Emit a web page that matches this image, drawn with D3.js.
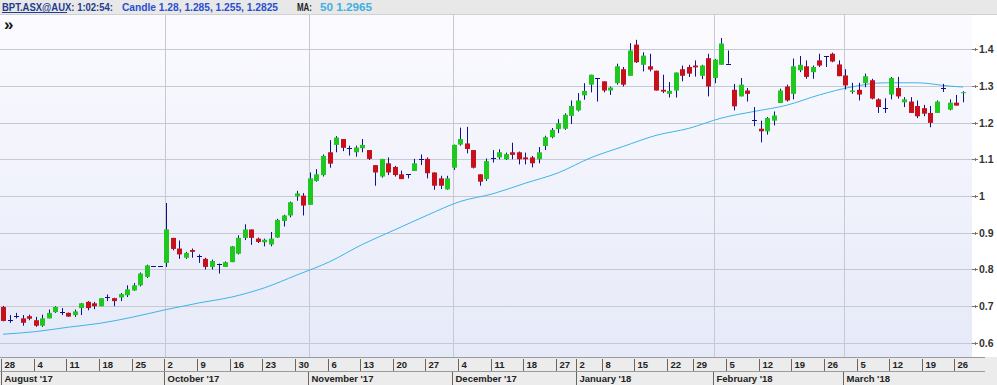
<!DOCTYPE html>
<html>
<head>
<meta charset="utf-8">
<script src="https://cdn.jsdelivr.net/npm/d3@7"></script>
<style>
  html, body { margin: 0; padding: 0; background: #fff; }
  svg { display: block; font-family: "Liberation Sans", Arial, sans-serif; }
</style>
</head>
<body>
<div id="chart"></div>
<script>
// --------------------------------------------------------
// DATA, one candle per trading day
// --------------------------------------------------------
const opens = [0.698,0.662,0.674,0.667,0.673,0.662,0.647,0.667,0.684,0.685,0.682,0.676,0.695,0.712,0.708,0.700,0.724,0.722,0.724,0.730,
  0.743,0.757,0.780,0.810,0.810,0.818,0.886,0.857,0.832,0.853,0.838,0.829,0.807,0.814,0.807,0.820,0.843,0.886,0.909,0.884,
  0.874,0.868,0.887,0.932,0.947,0.999,1.001,0.976,1.041,1.057,1.119,1.139,1.155,1.131,1.119,1.130,1.125,1.084,1.053,1.089,
  1.079,1.059,1.059,1.068,1.102,1.101,1.064,1.048,1.018,1.077,1.140,1.143,1.125,1.059,1.046,1.103,1.105,1.100,1.119,1.119,
  1.105,1.105,1.100,1.136,1.160,1.182,1.183,1.218,1.233,1.274,1.303,1.321,1.312,1.287,1.307,1.345,1.327,1.412,1.357,1.353,
  1.341,1.289,1.278,1.287,1.345,1.351,1.355,1.327,1.375,1.321,1.357,1.360,1.289,1.271,1.287,1.207,1.183,1.176,1.205,1.253,
  1.298,1.278,1.342,1.353,1.337,1.369,1.381,1.387,1.358,1.328,1.283,1.289,1.307,1.315,1.263,1.239,1.276,1.294,1.255,1.257,
  1.245,1.239,1.226,1.226,1.294,1.235,1.254,1.280];
const highs = [0.701,0.676,0.682,0.676,0.677,0.671,0.677,0.691,0.700,0.695,0.683,0.691,0.709,0.714,0.712,0.722,0.732,0.723,0.736,0.757,
  0.763,0.792,0.813,0.810,0.810,0.981,0.886,0.879,0.848,0.857,0.841,0.832,0.827,0.816,0.822,0.864,0.893,0.923,0.909,0.887,
  0.884,0.902,0.938,0.949,0.985,1.014,1.008,1.064,1.073,1.113,1.152,1.163,1.155,1.137,1.137,1.155,1.125,1.084,1.101,1.105,
  1.082,1.069,1.059,1.101,1.113,1.105,1.064,1.055,1.055,1.140,1.186,1.188,1.125,1.059,1.102,1.125,1.127,1.118,1.145,1.121,
  1.118,1.109,1.133,1.164,1.185,1.209,1.225,1.260,1.280,1.307,1.330,1.321,1.312,1.298,1.360,1.351,1.416,1.425,1.391,1.387,
  1.341,1.330,1.310,1.336,1.355,1.357,1.369,1.357,1.387,1.373,1.430,1.396,1.305,1.321,1.294,1.242,1.205,1.215,1.230,1.292,
  1.303,1.374,1.381,1.369,1.355,1.387,1.381,1.390,1.369,1.345,1.308,1.308,1.333,1.319,1.266,1.266,1.324,1.324,1.269,1.269,
  1.260,1.248,1.245,1.260,1.305,1.263,1.275,1.285];
const lows = [0.659,0.655,0.667,0.647,0.662,0.644,0.644,0.667,0.682,0.676,0.671,0.671,0.676,0.689,0.692,0.700,0.714,0.700,0.714,0.725,
  0.742,0.754,0.777,0.810,0.810,0.807,0.852,0.829,0.829,0.832,0.818,0.800,0.800,0.789,0.807,0.820,0.841,0.880,0.867,0.872,
  0.863,0.863,0.886,0.917,0.942,0.987,0.947,0.976,1.039,1.053,1.077,1.119,1.122,1.110,1.107,1.119,1.098,1.028,1.050,1.057,
  1.053,1.046,1.048,1.068,1.084,1.048,1.017,1.019,1.017,1.071,1.137,1.116,1.075,1.028,1.041,1.091,1.100,1.098,1.100,1.086,
  1.086,1.078,1.089,1.125,1.157,1.171,1.180,1.196,1.230,1.262,1.282,1.257,1.282,1.275,1.303,1.298,1.327,1.362,1.339,1.339,
  1.287,1.280,1.268,1.268,1.312,1.324,1.325,1.318,1.271,1.307,1.357,1.360,1.233,1.271,1.257,1.190,1.146,1.167,1.192,1.253,
  1.257,1.263,1.337,1.319,1.319,1.351,1.351,1.364,1.326,1.290,1.278,1.260,1.296,1.263,1.226,1.226,1.263,1.265,1.242,1.226,
  1.212,1.217,1.187,1.226,1.283,1.233,1.246,1.255];
const closes = [0.660,0.662,0.674,0.655,0.666,0.647,0.667,0.682,0.698,0.685,0.672,0.686,0.708,0.695,0.700,0.722,0.724,0.714,0.733,0.746,
  0.757,0.789,0.811,0.810,0.810,0.909,0.856,0.841,0.845,0.848,0.838,0.807,0.823,0.814,0.820,0.863,0.886,0.909,0.886,0.875,
  0.881,0.884,0.935,0.947,0.983,1.007,0.974,1.048,1.059,1.109,1.088,1.159,1.131,1.131,1.132,1.139,1.101,1.064,1.101,1.064,
  1.057,1.046,1.059,1.089,1.102,1.062,1.028,1.028,1.048,1.139,1.155,1.128,1.077,1.039,1.095,1.103,1.119,1.114,1.112,1.100,
  1.100,1.089,1.119,1.160,1.180,1.198,1.221,1.245,1.260,1.286,1.330,1.321,1.287,1.295,1.353,1.303,1.396,1.364,1.382,1.344,
  1.287,1.284,1.286,1.336,1.327,1.333,1.350,1.355,1.298,1.371,1.415,1.360,1.244,1.303,1.278,1.207,1.176,1.212,1.219,1.287,
  1.260,1.353,1.357,1.324,1.351,1.355,1.381,1.366,1.326,1.301,1.287,1.276,1.326,1.265,1.242,1.239,1.321,1.271,1.263,1.226,
  1.217,1.224,1.199,1.257,1.294,1.254,1.246,1.2825];

// 50 day moving average, read at these candle indices
const maIndex = [0,5,10,15,20,25,30,35,40,45,50,55,60,65,70,75,80,85,90,95,100,105,110,115,120,125,130,135,140,145,147];
const maValue = [0.624,0.631,0.643,0.654,0.671,0.691,0.709,0.725,0.750,0.785,0.821,0.868,0.908,0.948,0.985,1.006,1.035,1.063,1.104,1.135,
  1.165,1.184,1.212,1.230,1.247,1.275,1.297,1.308,1.308,1.299,1.2965];

// x axis: first trading day of each week, and of each month
const weekIndex = [0,5,10,15,20,25,30,35,40,45,50,55,60,65,70,75,80,85,88,92,97,102,106,111,116,121,126,131,136,141,146];
const weekLabel = ["28","4","11","18","25","2","9","16","23","30","6","13","20","27","4","11","18","27","2","8","15","22","29","5","12","19","26","5","12","19","26"];
const monthIndex = [0,25,47,69,88,109,129];
const monthLabel = ["August '17","October '17","November '17","December '17","January '18","February '18","March '18"];
const monthGrid = [25,47,69,109,129];

const yTicks = [0.6,0.7,0.8,0.9,1,1.1,1.2,1.3,1.4];

// header pieces: text, colour, left edge, width on screen
const headerText = ["BPT.ASX@AUX: 1:02:54:", "Candle 1.28, 1.285, 1.255, 1.2825", "MA:", "50 1.2965"];

// --------------------------------------------------------
// LAYOUT
// --------------------------------------------------------
const width = 997, height = 385;
const plotTop = 15, plotBottom = 357, plotRight = 972;
const dayRowTop = 357, monthRowTop = 371;

const candles = opens.map((o, i) => ({ i, o, h: highs[i], l: lows[i], c: closes[i] }));

const x = d3.scaleLinear().domain([0, candles.length - 1]).range([3, 963]);
const y = d3.scaleLinear().domain([0.6, 1.4]).range([343, 49]);

const svg = d3.select("#chart").append("svg")
  .attr("width", width).attr("height", height);

const defs = svg.append("defs");
const grad = defs.append("linearGradient").attr("id", "plotBg")
  .attr("x1", 0).attr("y1", 0).attr("x2", 0).attr("y2", 1);
grad.append("stop").attr("offset", "0%").attr("stop-color", "#fbfbff");
grad.append("stop").attr("offset", "100%").attr("stop-color", "#e6e9f8");
defs.append("clipPath").attr("id", "plotClip").append("rect")
  .attr("x", 0).attr("y", plotTop).attr("width", plotRight).attr("height", plotBottom - plotTop);

// header strip
svg.append("rect").attr("x", 0).attr("y", 0).attr("width", width).attr("height", plotTop)
  .attr("fill", "#e8e8e8");
svg.append("line").attr("x1", 0).attr("x2", width).attr("y1", plotTop - 0.5).attr("y2", plotTop - 0.5)
  .attr("stroke", "#d0d0d0");

const headerX = [2, 122, 297, 320];
const headerW = [111, 156, 15, 52];
const headerFill = ["#1f3c8f", "#2a4fd0", "#222", "#3fb0e0"];
svg.append("g").selectAll("text").data(headerText).join("text")
  .attr("x", (d, k) => headerX[k]).attr("y", 11)
  .attr("textLength", (d, k) => headerW[k]).attr("lengthAdjust", "spacingAndGlyphs")
  .attr("font-size", "10.5px").attr("font-weight", "bold")
  .attr("fill", (d, k) => headerFill[k])
  .text(d => d);
// underline under the symbol name
svg.append("line").attr("x1", 2).attr("x2", 67).attr("y1", 12.5).attr("y2", 12.5)
  .attr("stroke", "#1f3c8f").attr("stroke-width", 1);

// plot area
svg.append("rect").attr("x", 0).attr("y", plotTop).attr("width", plotRight).attr("height", plotBottom - plotTop)
  .attr("fill", "url(#plotBg)");
svg.append("rect").attr("x", plotRight).attr("y", plotTop).attr("width", width - plotRight).attr("height", plotBottom - plotTop)
  .attr("fill", "#ffffff");

const plot = svg.append("g").attr("clip-path", "url(#plotClip)");

// horizontal grid
plot.append("g").selectAll("line").data(yTicks).join("line")
  .attr("x1", 0).attr("x2", plotRight)
  .attr("y1", d => Math.round(y(d)) + 0.5).attr("y2", d => Math.round(y(d)) + 0.5)
  .attr("stroke", "#c6c8d2");

// vertical month grid
plot.append("g").selectAll("line").data(monthGrid).join("line")
  .attr("x1", d => Math.round(x(d)) - 0.5).attr("x2", d => Math.round(x(d)) - 0.5)
  .attr("y1", plotTop).attr("y2", plotBottom)
  .attr("stroke", "#c6c8d2");

// ">>" marker
svg.append("text").attr("x", 4).attr("y", 30).attr("font-size", "17px").attr("font-weight", "bold")
  .attr("fill", "#111").text("»");

// moving average
const maLine = d3.line().x(d => x(d[0])).y(d => y(d[1])).curve(d3.curveMonotoneX);
plot.append("path").datum(maIndex.map((d, k) => [d, maValue[k]]))
  .attr("fill", "none").attr("stroke", "#3fb4e6").attr("stroke-width", 1).attr("d", maLine);

// candles
const cx = d => Math.round(x(d.i));
const g = plot.append("g").selectAll("g").data(candles).join("g");
g.append("line")
  .attr("x1", d => cx(d) + 0.5).attr("x2", d => cx(d) + 0.5)
  .attr("y1", d => y(d.h)).attr("y2", d => y(d.l))
  .attr("stroke", "#10108e").attr("stroke-width", 1);
g.filter(d => Math.abs(d.o - d.c) > 0.0015).append("rect")
  .attr("x", d => cx(d) - 2).attr("width", 5)
  .attr("y", d => y(Math.max(d.o, d.c)))
  .attr("height", d => Math.max(1, y(Math.min(d.o, d.c)) - y(Math.max(d.o, d.c))))
  .attr("fill", d => d.c >= d.o ? "#1ec81e" : "#c8101a");
g.filter(d => Math.abs(d.o - d.c) <= 0.0015).append("line")
  .attr("x1", d => cx(d) - 2).attr("x2", d => cx(d) + 3)
  .attr("y1", d => Math.round(y(d.c)) + 0.5).attr("y2", d => Math.round(y(d.c)) + 0.5)
  .attr("stroke", "#10108e").attr("stroke-width", 1);

// right price axis
const axisG = svg.append("g");
const tickG = axisG.selectAll("g").data(yTicks).join("g")
  .attr("transform", d => `translate(0,${Math.round(y(d)) + 0.5})`);
tickG.append("line").attr("x1", plotRight).attr("x2", plotRight + 6).attr("stroke", "#777");
tickG.append("line").attr("x1", plotRight + 3.5).attr("x2", plotRight + 3.5).attr("y1", -1.5).attr("y2", 1.5).attr("stroke", "#777");
tickG.append("text").attr("x", plotRight + 7).attr("dy", "0.36em")
  .attr("font-size", "10.5px").attr("font-weight", "bold").attr("fill", "#333")
  .text(d => d3.format("")(d));

// bottom date axis
svg.append("rect").attr("x", 0).attr("y", dayRowTop).attr("width", width).attr("height", height - dayRowTop)
  .attr("fill", "#ececec");
svg.append("line").attr("x1", 0).attr("x2", 985).attr("y1", dayRowTop + 0.5).attr("y2", dayRowTop + 0.5).attr("stroke", "#9a9a9a");
svg.append("line").attr("x1", 0).attr("x2", 985).attr("y1", monthRowTop + 0.5).attr("y2", monthRowTop + 0.5).attr("stroke", "#9a9a9a");

const sep = d => Math.round(x(d)) - 1.5;
const weekG = svg.append("g").selectAll("g").data(weekIndex).join("g");
weekG.append("line").attr("x1", d => sep(d)).attr("x2", d => sep(d))
  .attr("y1", dayRowTop + 2).attr("y2", monthRowTop).attr("stroke", "#666");
weekG.append("text").attr("x", d => sep(d) + 3).attr("y", dayRowTop + 11)
  .attr("font-size", "9.5px").attr("font-weight", "bold").attr("fill", "#222")
  .text((d, k) => weekLabel[k]);

const monthG = svg.append("g").selectAll("g").data(monthIndex).join("g");
monthG.append("line").attr("x1", d => sep(d)).attr("x2", d => sep(d))
  .attr("y1", monthRowTop + 1).attr("y2", height).attr("stroke", "#666");
monthG.append("text").attr("x", d => Math.max(2, sep(d) + 3)).attr("y", monthRowTop + 11)
  .attr("font-size", "9.5px").attr("font-weight", "bold").attr("fill", "#222")
  .text((d, k) => monthLabel[k]);
</script>
</body>
</html>
